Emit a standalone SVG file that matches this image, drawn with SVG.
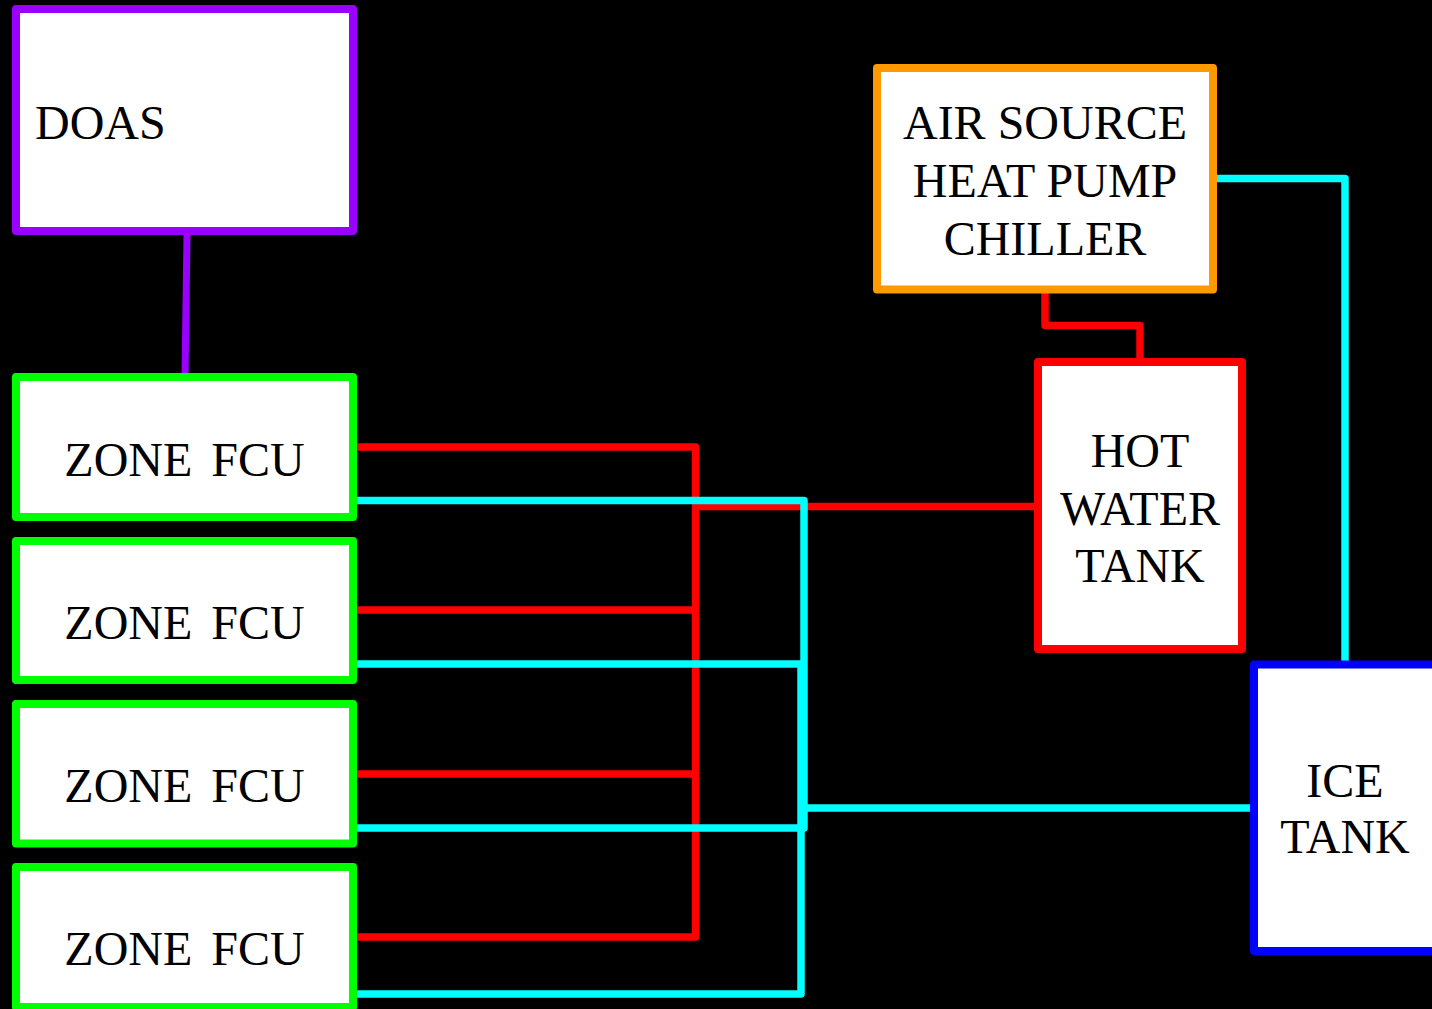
<svg xmlns="http://www.w3.org/2000/svg" width="1432" height="1009" viewBox="0 0 1432 1009">
<style>
.box{fill:#ffffff;stroke-width:8;stroke-linejoin:round}
.t{font-family:"Liberation Serif","Times New Roman",serif;font-size:48px;fill:#000000}
.c{text-anchor:middle}
.red{fill:none;stroke:#ff0000;stroke-width:7.5;stroke-linejoin:round}
.cyan{fill:none;stroke:#00ffff;stroke-width:7.5;stroke-linejoin:round}
.purple{fill:none;stroke:#9900ff;stroke-width:7}
</style>
<rect width="1432" height="1009" fill="#000000"/>
<g id="connectors">
<path class="purple" d="M187,235 L185,377"/>
<path class="red" d="M1045,293 V325.5 H1140 V358"/>
<path class="red" d="M355,447 H695.5 V937 H355"/>
<path class="red" d="M355,610 H695.5 M355,774 H695.5"/>
<path class="red" d="M695.5,506.5 H1036"/>
<path class="cyan" d="M355,664 H801 V994 H355"/>
<path class="cyan" d="M355,500.5 H804 V828 H355"/>
<path class="cyan" d="M804,808 H1251"/>
<path class="cyan" d="M1216,178.5 H1345 V661"/>
</g>
<g id="doas">
<rect class="box" x="16" y="9" width="337" height="222" stroke="#9900ff"/>
<text class="t" x="35" y="139">DOAS</text>
</g>
<g id="fcu1">
<rect class="box" x="16" y="377" width="337" height="140" stroke="#00ff00"/>
<text class="t c" x="184.5" y="476" word-spacing="7">ZONE FCU</text>
</g>
<g id="fcu2">
<rect class="box" x="16" y="541" width="337" height="139" stroke="#00ff00"/>
<text class="t c" x="184.5" y="639" word-spacing="7">ZONE FCU</text>
</g>
<g id="fcu3">
<rect class="box" x="16" y="704" width="337" height="139.5" stroke="#00ff00"/>
<text class="t c" x="184.5" y="802" word-spacing="7">ZONE FCU</text>
</g>
<g id="fcu4">
<rect class="box" x="16" y="867" width="337" height="140" stroke="#00ff00"/>
<text class="t c" x="184.5" y="965" word-spacing="7">ZONE FCU</text>
</g>
<g id="chiller">
<rect class="box" x="877" y="68" width="336" height="221.5" stroke="#ff9900"/>
<text class="t c" x="1045" y="139">AIR SOURCE</text>
<text class="t c" x="1045" y="197">HEAT PUMP</text>
<text class="t c" x="1045" y="255">CHILLER</text>
</g>
<g id="hotwater">
<rect class="box" x="1038" y="362" width="204" height="287" stroke="#ff0000"/>
<text class="t c" x="1140" y="467">HOT</text>
<text class="t c" x="1140" y="525">WATER</text>
<text class="t c" x="1140" y="582">TANK</text>
</g>
<g id="icetank">
<rect class="box" x="1254" y="664.5" width="182" height="286.5" stroke="#0000ff"/>
<text class="t c" x="1345" y="797">ICE</text>
<text class="t c" x="1345" y="853">TANK</text>
</g>
</svg>
